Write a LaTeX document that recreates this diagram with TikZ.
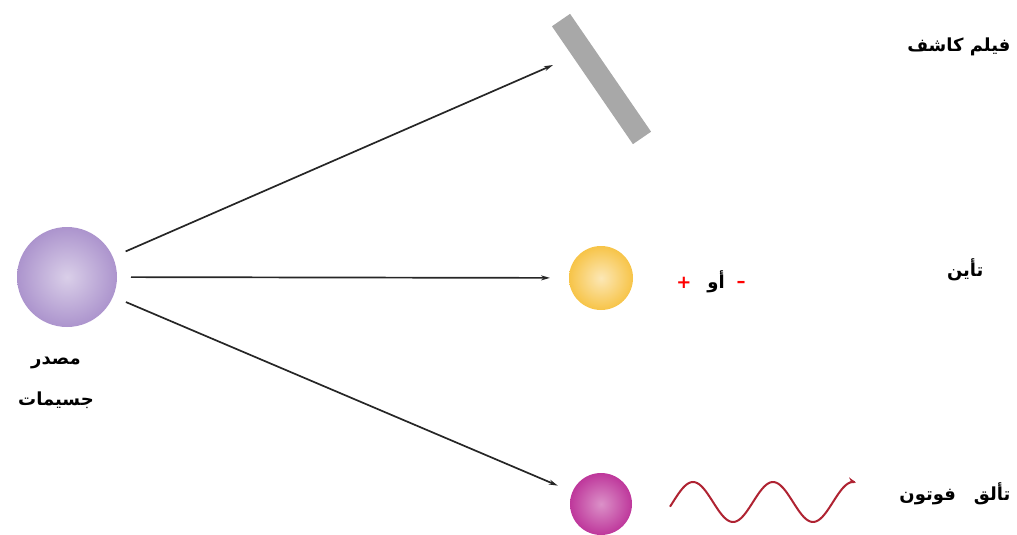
\documentclass[tikz,border=0pt]{standalone}
\usepackage{fontspec}
\newfontfamily\arabicfont[Script=Arabic]{DejaVu Sans}
\TeXXeTstate=1
\usetikzlibrary{arrows.meta}
\definecolor{srcviolet}{RGB}{172,148,205}
\definecolor{ionyellow}{RGB}{247,196,72}
\definecolor{scintmag}{RGB}{190,55,155}
\definecolor{filmgray}{RGB}{168,168,168}
\definecolor{wavered}{RGB}{175,35,50}
\begin{document}
\begin{tikzpicture}[x=1pt,y=-1pt,
  ray/.style={draw=black!85,line width=1.7pt,-{Stealth[length=9pt,width=5pt]}},
  ball/.style={circle,inner sep=0pt,outer sep=0pt,shading=radial},
  lbl/.style={font=\arabicfont\bfseries\fontsize{18}{20}\selectfont}]
\useasboundingbox (0,0) rectangle (1017,535);
% source and targets
\node[ball,minimum size=100pt,inner color=srcviolet!45!white,outer color=srcviolet] (src) at (67,277) {};
\node[ball,minimum size=64pt,inner color=ionyellow!40!white,outer color=ionyellow] (ion) at (601,278) {};
\node[ball,minimum size=62pt,inner color=scintmag!55!white,outer color=scintmag] (scint) at (601,504) {};
\node[fill=filmgray,minimum width=143pt,minimum height=22pt,inner sep=0pt,rotate=-55.5] (film) at (601.5,79) {};
\coordinate (filmtip) at (553,65);
% rays
\draw[ray,shorten <=14pt] (src) -- (filmtip);
\draw[ray,shorten <=14pt,shorten >=19pt] (src) -- (ion);
\draw[ray,shorten <=14pt,shorten >=16pt] (src) -- (scint);
% photon
\draw[wavered,line width=2pt,-{Stealth[length=8pt,width=6pt,fill=red]}]
  plot[domain=670:856,samples=90,smooth] (\x,{502-20*sin((\x-673)*4.5)});
% labels
\node[lbl,anchor=east] (filmlbl) at (1014,47) {\beginR فيلم كاشف\endR};
\node[lbl,anchor=east] (ionlbl) at (987,270) {\beginR تأين\endR};
\node[lbl] (orlbl) at (716,282) {\beginR أو\endR};
\node[lbl,text=red] (pluslbl) at (684,283) {+};
\node[lbl,text=red] (minuslbl) at (741,284) {–};
\node[lbl,align=center] (srclbl) at (56,383) {\beginR مصدر\endR\\[21pt]\beginR جسيمات\endR};
\node[lbl,anchor=east] (scintlbl) at (1014,494) {\beginR تألق\quad فوتون\endR};
\end{tikzpicture}
\end{document}
